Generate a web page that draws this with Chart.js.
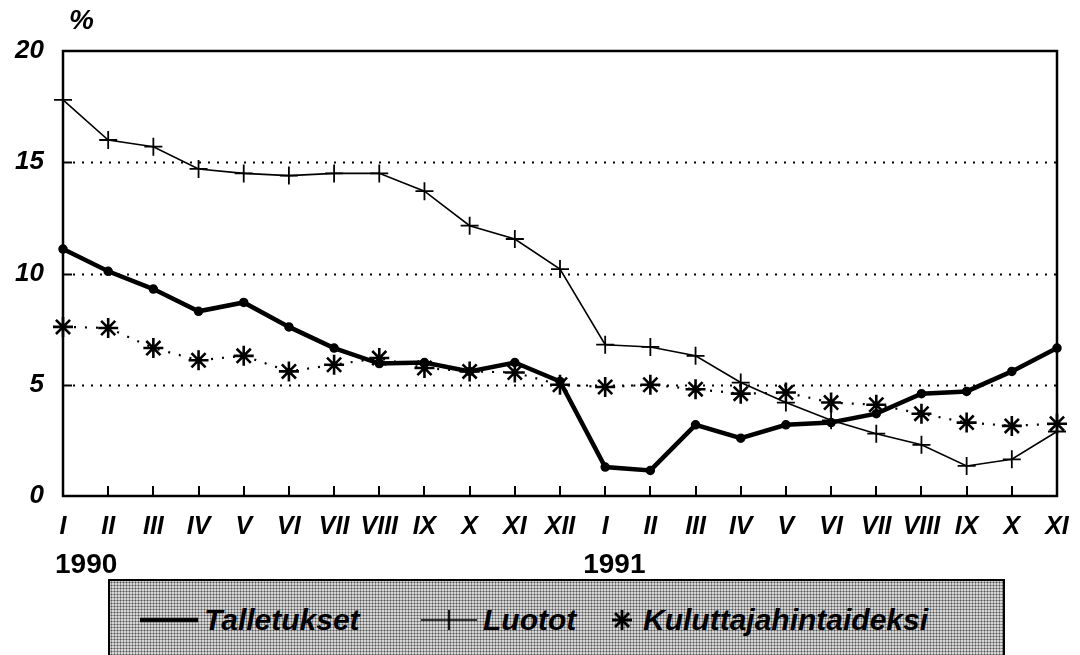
<!DOCTYPE html>
<html>
<head>
<meta charset="utf-8">
<script src="https://cdn.jsdelivr.net/npm/chart.js@4/dist/chart.umd.min.js"></script>
<style>
    html, body { margin: 0; padding: 0; background: #fff; }
    #wrap { position: relative; width: 1080px; height: 655px; overflow: hidden; font-family: "Liberation Sans", Arial, sans-serif; }
    #chart { position: absolute; left: 0; top: 0; }
    #pct { position: absolute; left: 69px; top: 4px; font: italic bold 28px "Liberation Sans", Arial, sans-serif; }
    #legend {
        position: absolute; left: 108px; top: 579px; width: 893px; height: 90px;
        border: 2px solid #000;
        background-color: #d6d6d6;
        background-image: radial-gradient(#555 0.9px, transparent 1.1px);
        background-size: 3px 3px;
    }
    .item { position: absolute; top: 22px; height: 34px; display: flex; align-items: center; font: italic bold 30px "Liberation Sans", Arial, sans-serif; color: #000; }
    .item svg { margin-right: 6px; }
</style>
</head>
<body>
<div id="wrap">
    <canvas id="chart" width="1080" height="655"></canvas>
    <div id="pct">%</div>
    <div id="legend"></div>
</div>
<script>
const months = ['I', 'II', 'III', 'IV', 'V', 'VI', 'VII', 'VIII', 'IX', 'X', 'XI', 'XII',
    'I', 'II', 'III', 'IV', 'V', 'VI', 'VII', 'VIII', 'IX', 'X', 'XI'];
const talletukset = [11.1, 10.1, 9.3, 8.3, 8.7, 7.6, 6.65, 5.95, 6.0, 5.6, 6.0, 5.15,
    1.3, 1.15, 3.2, 2.6, 3.2, 3.3, 3.7, 4.6, 4.7, 5.6, 6.65];
const luotot = [17.8, 16.0, 15.7, 14.7, 14.5, 14.4, 14.5, 14.5, 13.7, 12.15, 11.55, 10.2,
    6.8, 6.7, 6.3, 5.1, 4.2, 3.4, 2.8, 2.3, 1.35, 1.65, 2.9];
const kuluttaja = [7.6, 7.55, 6.65, 6.1, 6.3, 5.6, 5.9, 6.2, 5.75, 5.6, 5.55, 5.0,
    4.9, 5.0, 4.8, 4.6, 4.65, 4.2, 4.1, 3.7, 3.3, 3.15, 3.25];
const yearLabels = ['1990', '1991'];
const yearStart = [0, 12];
const gridValues = [5, 10, 15];
const seriesNames = ['Talletukset', 'Luotot', 'Kuluttajahintaideksi'];

const FONT = '"Liberation Sans", Arial, sans-serif';

// box, dotted grid, inward ticks and year captions
const framePlugin = {
    id: 'frame',
    beforeDatasetsDraw(chart) {
        const { ctx, chartArea: a, scales: { x, y } } = chart;
        ctx.save();
        ctx.strokeStyle = '#000';
        ctx.lineWidth = 2;
        ctx.setLineDash([2, 7]);
        gridValues.forEach(v => {
            const py = Math.round(y.getPixelForValue(v)) + 0.5;
            ctx.beginPath();
            ctx.moveTo(a.left + 10, py);
            ctx.lineTo(a.right, py);
            ctx.stroke();
        });
        ctx.setLineDash([]);
        ctx.lineWidth = 2;
        gridValues.forEach(v => {
            const py = Math.round(y.getPixelForValue(v)) + 0.5;
            ctx.beginPath();
            ctx.moveTo(a.left, py);
            ctx.lineTo(a.left + 9, py);
            ctx.stroke();
        });
        months.forEach((m, i) => {
            const px = Math.round(x.getPixelForValue(i));
            ctx.beginPath();
            ctx.moveTo(px, a.bottom);
            ctx.lineTo(px, a.bottom - 10);
            ctx.stroke();
        });
        ctx.lineWidth = 2.5;
        ctx.strokeRect(a.left, a.top, a.right - a.left, a.bottom - a.top);

        ctx.fillStyle = '#000';
        ctx.font = 'bold 28px ' + FONT;
        ctx.textBaseline = 'middle';
        ctx.textAlign = 'left';
        const shift = [-8, -22];
        yearLabels.forEach((t, k) => {
            ctx.fillText(t, x.getPixelForValue(yearStart[k]) + shift[k], 565);
        });
        ctx.restore();
    }
};

const ctx = document.getElementById('chart').getContext('2d');
new Chart(ctx, {
    type: 'line',
    data: {
        labels: months,
        datasets: [
            {
                label: seriesNames[0],
                data: talletukset,
                borderColor: '#000',
                backgroundColor: '#000',
                borderWidth: 4.5,
                pointRadius: 2.5,
                pointStyle: 'circle',
                tension: 0,
                clip: false
            },
            {
                label: seriesNames[1],
                data: luotot,
                borderColor: '#000',
                backgroundColor: '#000',
                borderWidth: 1.6,
                pointRadius: 9,
                pointStyle: 'cross',
                pointBorderWidth: 1.8,
                tension: 0,
                clip: false
            },
            {
                label: seriesNames[2],
                data: kuluttaja,
                borderColor: '#000',
                backgroundColor: '#000',
                borderWidth: 2.2,
                borderDash: [2, 9],
                pointRadius: 10,
                pointStyle: 'star',
                pointBorderWidth: 2.6,
                tension: 0,
                clip: false
            }
        ]
    },
    options: {
        responsive: false,
        animation: false,
        layout: { padding: { left: 0, right: 23, top: 51, bottom: 119 } },
        plugins: { legend: { display: false }, tooltip: { enabled: false } },
        scales: {
            x: {
                offset: false,
                grid: { display: false },
                border: { display: false },
                ticks: {
                    color: '#000',
                    font: { family: FONT, size: 25, style: 'italic', weight: 'bold' },
                    padding: 8,
                    maxRotation: 0,
                    autoSkip: false
                },
                afterFit(scale) { scale.height = 40; }
            },
            y: {
                min: 0,
                max: 20,
                grid: { display: false },
                border: { display: false },
                ticks: {
                    stepSize: 5,
                    color: '#000',
                    font: { family: FONT, size: 26, style: 'italic', weight: 'bold' },
                    padding: 11
                },
                afterFit(scale) { scale.width = 63; }
            }
        }
    },
    plugins: [framePlugin]
});

// legend box below the chart
const legendSamples = [
    '<svg width="58" height="20"><line x1="0" y1="10" x2="58" y2="10" stroke="#000" stroke-width="4.5"/></svg>',
    '<svg width="56" height="24"><line x1="0" y1="12" x2="56" y2="12" stroke="#000" stroke-width="1.6"/><line x1="28" y1="2" x2="28" y2="22" stroke="#000" stroke-width="1.8"/></svg>',
    '<svg width="30" height="26"><g stroke="#000" stroke-width="2.8"><line x1="15" y1="3" x2="15" y2="23"/><line x1="5" y1="13" x2="25" y2="13"/><line x1="8" y1="6" x2="22" y2="20"/><line x1="22" y1="6" x2="8" y2="20"/></g></svg>'
];
const legendLeft = [30, 311, 497];
const legend = document.getElementById('legend');
seriesNames.forEach((name, i) => {
    const el = document.createElement('div');
    el.className = 'item';
    el.style.left = legendLeft[i] + 'px';
    el.innerHTML = legendSamples[i] + '<span>' + name + '</span>';
    legend.appendChild(el);
});
</script>
</body>
</html>
